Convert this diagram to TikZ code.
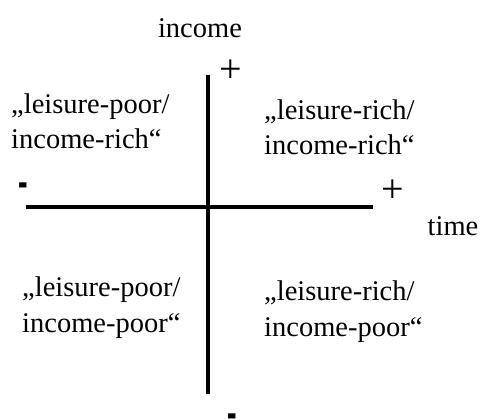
\documentclass[tikz,border=0pt]{standalone}
\usepackage{fontspec}
\usepackage{graphicx}
\setmainfont{Liberation Serif}
\begin{document}
\begin{tikzpicture}[x=1pt,y=-1pt,
  lbl/.style={inner sep=0pt, font=\fontsize{28.5}{35.5}\selectfont},
  quad/.style={lbl, align=left, anchor=base west},
  plus/.style={inner sep=0pt, font=\fontsize{40}{46}\selectfont},
  sign/.style={lbl, anchor=base},
  axis/.style={line width=4.5pt}]
\useasboundingbox (0,0) rectangle (481,419);
\node[lbl, anchor=base] (income) at (200,38) {income};
\node[plus] (iplus) at (231,71) {+};
\node[lbl, anchor=base] (time) at (453,236) {time};
\node[plus] (tplus) at (393,191) {+};
\node[sign] (tminus) at (23,202) {\scalebox{1}[2.4]{-}};
\node[sign] (iminus) at (232,432) {\scalebox{1}[2.4]{-}};
\coordinate (vtop) at (208,75);
\coordinate (vbot) at (208,394);
\coordinate (hl) at (26,207);
\coordinate (hr) at (373,207);
\draw[axis] (vtop) -- (vbot);
\draw[axis] (hl) -- (hr);
\node[quad] (ul) at (11,149) {„leisure-poor/\\income-rich“};
\node[quad] (ur) at (264,155) {„leisure-rich/\\income-rich“};
\node[quad] (ll) at (22,332) {„leisure-poor/\\income-poor“};
\node[quad] (lr) at (264,336) {„leisure-rich/\\income-poor“};
\end{tikzpicture}
\end{document}
